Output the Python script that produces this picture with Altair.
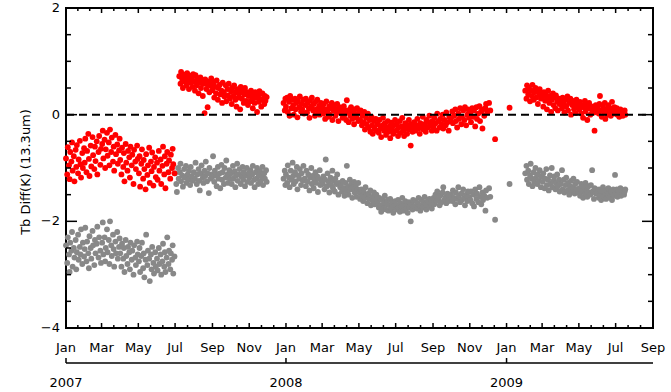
import altair as alt
import pandas as pd

N = None  # no observation on that day

# ---------------------------------------------------------------------------
# Daily brightness-temperature differences (K), 13.3 um channel.
# Each segment: (first day, list of daily values)
# ---------------------------------------------------------------------------
red_2007a = ("2007-01-01", [
    # Jan
    -0.82, N, -1.12, -0.61, N, -0.95, -1.21, -0.70, N, -0.88, -0.52, -1.05, N, -0.78, -1.25, N, -0.66, -0.98, -0.57,
    N, -1.10, -0.84, N, -0.49, -0.93, -1.18, N, -0.72, -1.00, N, -0.63,
    # Feb
    -0.90, -0.45, N, -1.08, -0.68, N, -0.36, -0.83, -1.15, N, -0.58, -0.97, N, -0.42, -0.76, N, -1.02, -0.60, -0.87,
    N, -0.50, -1.12, N, -0.70, -0.40, N, -0.94, -0.64,
    # Mar
    N, -0.55, -0.30, -0.82, N, -0.47, -1.00, -0.65, N, -0.34, -0.77, N, -0.52, -0.95, -0.28, N, -0.70, -0.43, N,
    -0.88, -0.60, -1.05, N, -0.38, -0.74, N, -0.56, -0.92, N, -0.67, -0.45,
    # Apr
    -0.85, N, -1.12, -0.62, N, -0.98, -0.72, -1.25, N, -0.55, -0.90, N, -1.05, -0.68, N, -0.80, -1.18, -0.60, N,
    -0.95, -0.75, N, -1.30, -0.66, N, -0.88, -1.02, N, -0.58, -0.83,
    # May
    N, -1.10, -0.78, -1.35, N, -0.92, -0.65, N, -1.20, -0.85, -1.02, N, -1.40, -0.74, N, -1.13, -0.95, N, -0.62,
    -1.28, N, -0.88, -1.06, -0.71, N, -1.33, -0.98, N, -0.80, -1.17, N,
    # Jun
    -0.90, -1.22, N, -0.68, -1.05, N, -0.84, -1.30, N, -0.96, -0.60, N, -1.12, -0.78, -1.38, N, -0.92, -0.70, N,
    -1.08, -0.86, N, -1.20, -0.75, N, -1.00, -0.64, -0.93, N, -1.10,
])

red_2007b = ("2007-07-08", [
    # Jul 8-31
    0.72, N, 0.58, 0.80, N, 0.66, 0.50, N, 0.75, 0.62, N, 0.70, 0.55, 0.78, N, 0.64, 0.48, N, 0.73, 0.60, N, 0.68,
    0.52, 0.76,
    # Aug
    N, 0.62, 0.45, 0.74, N, 0.55, 0.68, N, 0.40, 0.60, N, 0.70, 0.50, N, 0.64, 0.35, 0.58, N, 0.03, 0.66, N, 0.48,
    0.57, 0.14, N, 0.62, 0.42, N, 0.54, 0.68, N,
    # Sep
    0.46, N, 0.60, 0.32, N, 0.52, 0.40, 0.64, N, 0.28, 0.50, N, 0.56, 0.38, N, 0.45, 0.22, 0.60, N, 0.42, 0.34, N,
    0.55, 0.25, N, 0.48, 0.36, 0.58, N, 0.30,
    # Oct
    N, 0.44, 0.20, 0.50, N, 0.35, 0.55, N, 0.28, 0.42, 0.15, N, 0.48, 0.32, N, 0.40, 0.10, 0.52, N, 0.30, 0.45, N,
    0.22, 0.38, 0.50, N, 0.26, 0.42, N, 0.18, 0.35,
    # Nov
    0.40, N, 0.25, 0.45, N, 0.30, 0.12, 0.38, N, 0.22, 0.42, N, 0.32, 0.05, N, 0.36, 0.24, 0.44, N, 0.28, 0.15, N,
    0.40, 0.30, N, 0.20, 0.35, 0.26, N, 0.33,
])

red_2008 = ("2007-12-28", [
    # Dec 28-31
    0.22, N, 0.08, 0.30,
    # Jan
    0.15, N, 0.32, 0.05, N, 0.24, -0.02, 0.35, N, 0.12, 0.28, N, 0.18, 0.00, N, 0.30, 0.10, 0.22, N, -0.05, 0.26, N,
    0.14, 0.34, N, 0.06, 0.20, 0.10, N, 0.28, 0.02,
    # Feb
    N, 0.18, 0.30, N, 0.04, 0.22, N, 0.12, -0.06, 0.26, N, 0.15, 0.32, N, 0.08, 0.20, N, -0.02, 0.24, 0.10, N, 0.28,
    0.05, N, 0.16, 0.00, N, 0.22, 0.10,
    # Mar
    0.14, N, 0.02, 0.20, N, -0.08, 0.10, 0.25, N, 0.06, -0.04, N, 0.16, 0.00, N, 0.12, 0.22, -0.10, N, 0.08, 0.18, N,
    -0.02, 0.10, N, 0.20, 0.04, -0.12, N, 0.14, 0.06,
    # Apr
    N, 0.02, 0.12, -0.06, N, 0.16, 0.00, N, 0.08, -0.10, 0.27, N, 0.04, -0.14, N, 0.10, -0.02, 0.14, N, -0.08, 0.06,
    N, -0.18, 0.10, 0.00, N, -0.05, 0.12, N, -0.12,
    # May
    0.04, N, -0.10, 0.08, N, -0.20, -0.02, N, -0.14, 0.05, -0.28, N, -0.06, -0.18, N, 0.02, -0.24, N, -0.10, -0.32,
    N, -0.04, -0.20, -0.36, N, -0.12, -0.26, N, -0.08, -0.30, N,
    # Jun
    -0.18, N, -0.34, -0.10, N, -0.26, -0.42, N, -0.20, -0.06, N, -0.30, -0.16, N, -0.38, -0.24, N, -0.12, -0.32, N,
    -0.22, -0.44, N, -0.15, -0.28, N, -0.36, -0.20, N, -0.10,
    # Jul
    N, -0.30, -0.18, N, -0.40, -0.24, N, -0.12, -0.34, N, -0.22, -0.06, N, -0.30, -0.40, N, -0.16, -0.26, N, -0.36,
    -0.20, N, -0.10, -0.28, N, -0.58, -0.18, N, -0.32, -0.24, N,
    # Aug
    -0.14, N, -0.30, N, -0.20, -0.08, N, -0.26, N, -0.36, -0.16, N, -0.22, N, -0.04, -0.28, N, -0.18, N, -0.32,
    -0.10, N, -0.24, N, -0.14, -0.02, N, -0.20, N, -0.30, -0.12,
    # Sep
    N, -0.22, -0.06, N, -0.16, N, -0.30, 0.02, N, -0.12, N, -0.24, -0.08, N, -0.18, N, 0.00, -0.26, N, -0.10, N,
    -0.20, 0.04, N, -0.14, N, -0.30, -0.04, N, -0.12,
    # Oct
    -0.06, N, 0.06, -0.16, N, -0.02, N, 0.10, -0.12, N, -0.24, N, 0.02, -0.08, N, 0.12, N, -0.18, -0.04, N, 0.08, N,
    -0.10, 0.14, N, -0.20, N, 0.00, 0.10, N, -0.06,
    # Nov
    N, 0.04, -0.14, N, 0.12, N, -0.04, 0.08, N, -0.22, N, 0.14, -0.08, N, 0.02, N, 0.16, -0.12, N, 0.06, N, -0.26,
    0.10, N, -0.02, N, 0.12, 0.20, N, 0.04,
    # Dec
    N, N, 0.22, N, 0.08, N, N, N, N, N, N, N, -0.46,
])

red_2009a = ("2009-01-06", [0.13])

red_2009b = ("2009-02-01", [
    # Feb
    0.45, N, 0.30, 0.55, N, 0.38, 0.50, N, 0.25, 0.46, N, 0.35, 0.56, N, 0.28, 0.42, N, 0.50, 0.32, N, 0.44, 0.20,
    N, 0.38, 0.48, N, 0.30, 0.40,
    # Mar
    N, 0.34, 0.15, 0.42, N, 0.26, 0.38, N, 0.10, 0.30, 0.45, N, 0.22, 0.35, N, 0.05, 0.28, N, 0.40, 0.18, 0.32, N,
    0.12, 0.36, N, 0.24, 0.08, N, 0.30, 0.20, N,
    # Apr
    0.26, N, 0.12, 0.32, N, 0.20, 0.04, N, 0.28, 0.16, N, 0.34, 0.08, N, 0.22, N, 0.30, 0.00, N, 0.18, 0.26, N, 0.10,
    0.20, N, 0.03, 0.28, N, 0.14, 0.22,
    # May
    N, 0.10, 0.24, N, 0.02, 0.18, N, -0.06, 0.14, N, 0.26, 0.06, N, 0.20, -0.10, N, 0.12, 0.22, N, 0.00, 0.16, N,
    0.08, 0.12, N, 0.04, -0.30, N, 0.18, 0.10, N,
    # Jun
    0.14, N, 0.02, 0.20, 0.35, N, 0.08, -0.04, N, 0.16, 0.06, N, 0.22, -0.08, N, 0.10, 0.00, N, 0.18, 0.05, N, 0.12,
    -0.02, N, 0.24, 0.08, N, 0.02, 0.14, N,
    # Jul 1-17
    0.06, N, 0.12, 0.00, N, 0.08, -0.04, N, 0.10, 0.02, N, 0.06, -0.02, N, 0.04, 0.08, 0.00,
])

gray_2007a = ("2007-01-01", [
    # Jan
    -2.45, N, -2.78, -2.30, N, -2.62, -2.95, -2.40, N, -2.55, -2.20, -2.85, N, -2.50, -2.68, N, -2.35, -2.90, -2.58,
    N, -2.25, -2.72, N, -2.48, -2.62, -2.15, N, -2.80, -2.40, N, -2.66,
    # Feb
    -2.52, -2.12, N, -2.75, -2.38, N, -2.60, -2.88, -2.28, N, -2.50, -2.70, N, -2.18, -2.45, N, -2.82, -2.35, -2.60,
    N, -2.42, -2.10, N, -2.68, -2.30, N, -2.55, -2.78,
    # Mar
    N, -2.40, -2.02, -2.62, N, -2.30, -2.75, -2.50, N, -2.15, -2.58, N, -2.35, -2.80, -2.00, N, -2.45, -2.65, N,
    -2.25, -2.52, -2.85, N, -2.38, -2.60, N, -2.20, -2.70, N, -2.48, -2.32,
    # Apr
    -2.60, N, -2.85, -2.42, N, -2.70, -2.50, -2.95, N, -2.35, -2.65, N, -2.80, -2.48, N, -2.58, -2.90, -2.40, N,
    -2.72, -2.55, N, -3.00, -2.45, N, -2.68, -2.82, N, -2.38, -2.62,
    # May
    N, -2.75, -2.50, -2.95, N, -2.65, -2.40, N, -2.88, -2.60, -3.05, N, -2.72, -2.25, N, -2.82, -2.55, N, -2.70,
    -3.12, N, -2.62, -2.90, -2.48, N, -2.78, -2.98, N, -2.58, -2.85, N,
    # Jun
    -2.70, -2.92, N, -2.50, -2.80, N, -2.62, -3.00, N, -2.75, -2.42, N, -2.85, -2.58, -2.95, N, -2.68, -2.30, N,
    -2.80, -2.55, N, -2.90, -2.60, N, -2.72, -2.45, -2.98, N, -2.66,
])

gray_2007b = ("2007-07-01", [
    # Jul
    -1.10, N, -1.30, -1.45, N, -1.00, -1.20, N, -1.08, -0.92, -1.25, N, -1.14, -1.35, N, -1.02, -1.18, N, -0.96,
    -1.28, N, -1.12, -1.22, -1.05, N, -1.32, -0.98, N, -1.16, -1.24, N,
    # Aug
    -1.08, N, -1.20, -0.90, N, -1.30, -1.12, N, -1.02, -1.24, -1.42, N, -1.10, -0.95, N, -1.18, -1.28, N, -1.05,
    -1.15, -0.88, N, -1.25, -1.10, N, -1.47, -1.00, N, -1.20, -1.12, N,
    # Sep
    -1.16, -0.78, N, -1.26, -1.05, N, -1.14, -1.34, N, -0.98, -1.20, N, -1.10, -1.38, N, -0.94, -1.22, -1.08, N,
    -1.30, -1.00, N, -1.18, -0.86, N, -1.12, -1.28, N, -1.04, -1.20,
    # Oct
    N, -1.10, -1.30, N, -0.96, -1.20, N, -1.06, -1.36, -1.14, N, -0.92, -1.24, N, -1.12, -1.02, N, -1.30, -1.16, N,
    -0.98, -1.22, -1.08, N, -1.34, -1.14, N, -1.00, -1.26, N, -1.10,
    # Nov
    -1.18, N, -1.04, -1.28, N, -1.12, -0.96, N, -1.22, -1.36, N, -1.08, -1.20, -1.00, N, -1.30, -1.14, N, -1.06,
    -1.24, N, -1.16, -0.98, -1.32, N, -1.10, -1.20, N, -1.04, -1.26,
])

gray_2008 = ("2007-12-28", [
    # Dec 28-31
    -1.20, N, -1.05, -1.32,
    # Jan
    -1.12, N, -1.28, -0.95, N, -1.18, -1.36, N, -1.05, -1.22, N, -0.90, -1.15, -1.30, N, -1.08, -1.25, N, -0.98,
    -1.40, N, -1.14, -1.20, -1.02, N, -1.32, -1.10, N, -1.24, -0.96, N,
    # Feb
    -1.20, N, -1.34, -1.05, N, -1.26, -1.12, N, -1.42, -1.18, N, -1.00, -1.30, -1.15, N, -1.38, -1.22, N, -1.08,
    -1.28, N, -1.16, -1.45, -1.20, N, -1.04, -1.32, N, -1.24,
    # Mar
    N, -1.30, -1.16, N, -1.40, -1.22, -0.84, N, -1.34, -1.10, N, -1.26, -1.46, N, -1.18, -1.32, N, -1.05, -1.38,
    -1.24, N, -1.44, -1.20, N, -1.30, -1.12, N, -1.50, -1.28, N, -1.36,
    # Apr
    -1.32, N, -1.44, -1.24, N, -1.38, -1.52, N, -1.28, -1.42, -0.96, N, -1.34, -1.50, N, -1.22, -1.40, N, -1.30,
    -1.56, N, -1.36, -1.26, -1.46, N, -1.32, -1.54, N, -1.40, -1.28,
    # May
    N, -1.46, -1.58, N, -1.40, -1.52, N, -1.62, -1.44, N, -1.56, -1.36, N, -1.50, -1.66, N, -1.48, -1.58, N, -1.42,
    -1.70, N, -1.54, -1.62, N, -1.46, -1.68, N, -1.58, -1.50, N,
    # Jun
    -1.64, N, -1.74, -1.56, N, -1.70, -1.82, N, -1.60, -1.76, N, -1.66, -1.52, N, -1.78, -1.68, N, -1.60, -1.80, N,
    -1.70, -1.58, N, -1.76, -1.64, N, -1.84, -1.72, N, -1.62,
    # Jul
    N, -1.70, -1.78, N, -1.60, -1.74, N, -1.82, -1.66, N, -1.72, -1.56, N, -1.80, -1.68, N, -1.62, -1.76, N, -1.70,
    -1.84, N, -1.64, -1.74, N, -2.00, -1.68, N, -1.78, -1.60, N,
    # Aug
    -1.72, N, -1.62, N, -1.76, -1.66, N, -1.56, N, -1.70, -1.80, N, -1.60, N, -1.74, -1.64, N, -1.54, N, -1.68,
    -1.78, N, -1.62, N, -1.72, -1.58, N, -1.66, N, -1.76, -1.60,
    # Sep
    N, -1.56, -1.68, N, -1.50, N, -1.62, -1.44, N, -1.58, N, -1.70, -1.52, N, -1.64, N, -1.46, -1.36, N, -1.60, N,
    -1.54, -1.66, N, -1.48, N, -1.62, -1.52, N, -1.58,
    # Oct
    -1.50, N, -1.62, -1.42, N, -1.56, N, -1.68, -1.46, N, -1.58, N, -1.36, -1.52, N, -1.64, N, -1.48, -1.60, N,
    -1.40, N, -1.56, -1.70, N, -1.50, N, -1.62, -1.44, N, -1.54,
    # Nov
    N, -1.60, -1.44, N, -1.66, N, -1.50, -1.72, N, -1.40, N, -1.58, -1.48, N, -1.64, N, -1.36, -1.54, N, -1.68, N,
    -1.46, -1.60, N, -1.52, N, -1.80, -1.42, N, -1.56,
    # Dec
    N, N, -1.38, N, -1.54, N, N, N, N, N, N, N, -1.97,
])

gray_2009a = ("2009-01-06", [-1.30])

gray_2009b = ("2009-02-01", [
    # Feb
    -1.10, N, -0.96, -1.22, N, -1.05, -1.30, N, -1.14, -0.92, N, -1.20, -1.34, N, -1.08, -1.26, N, -1.00, -1.18, N,
    -1.30, -1.12, N, -1.24, -1.04, N, -1.36, -1.16,
    # Mar
    N, -1.26, -1.10, N, -1.38, -1.20, N, -1.02, -1.32, N, -1.22, -1.42, N, -1.14, -1.30, N, -1.00, -1.36, N, -1.24,
    -1.16, N, -1.40, -1.28, N, -1.12, -1.34, N, -1.22, -1.44, N,
    # Apr
    -1.30, N, -1.04, -1.40, N, -1.22, -1.46, N, -1.32, -1.18, N, -1.42, -1.28, N, -1.50, -1.34, N, -1.24, -1.44, N,
    -1.36, -1.20, N, -1.48, -1.30, N, -1.40, -1.26, N, -1.46,
    # May
    N, -1.38, -1.52, N, -1.30, -1.44, N, -1.56, -1.36, N, -1.48, -1.28, N, -1.42, -1.54, N, -1.34, -1.46, N, -1.50,
    -1.32, N, -1.04, -1.44, N, -1.58, -1.38, N, -1.48, -1.40, N,
    # Jun
    -1.46, N, -1.56, -1.40, N, -1.50, -1.60, N, -1.44, -1.36, N, -1.54, -1.46, N, -1.58, -1.42, N, -1.50, -1.38, N,
    -1.56, -1.48, N, -1.44, -1.60, N, -1.40, -1.52, N, -1.13,
    # Jul 1-17
    -1.48, N, -1.40, -1.54, N, -1.44, -1.50, N, -1.38, -1.52, N, -1.46, -1.42, N, -1.50, -1.44, -1.40,
])

series_segments = {
    "gray": [gray_2007a, gray_2007b, gray_2008, gray_2009a, gray_2009b],
    "red": [red_2007a, red_2007b, red_2008, red_2009a, red_2009b],
}

# Axis annotation
x_start, x_end = "2007-01-01", "2009-09-01"
month_ticks = ["2007-01-01", "2007-03-01", "2007-05-01", "2007-07-01", "2007-09-01", "2007-11-01",
               "2008-01-01", "2008-03-01", "2008-05-01", "2008-07-01", "2008-09-01", "2008-11-01",
               "2009-01-01", "2009-03-01", "2009-05-01", "2009-07-01", "2009-09-01"]
month_labels = ["Jan", "Mar", "May", "Jul", "Sep", "Nov",
                "Jan", "Mar", "May", "Jul", "Sep", "Nov",
                "Jan", "Mar", "May", "Jul", "Sep"]
year_ticks = ["2007-01-01", "2008-01-01", "2009-01-01"]
year_labels = ["2007", "2008", "2009"]
y_major = [2, 0, -2, -4]
y_major_labels = ["2", "0", "\u22122", "\u22124"]
y_minor = [1.5, 1.0, 0.5, -0.5, -1.0, -1.5, -2.5, -3.0, -3.5]
y_title = "Tb Diff(K)  (13.3um)"

W, H = 587, 320
FONT = "DejaVu Sans"
FS = 13
INK = "#000000"


def ms(ts):
    return int(pd.Timestamp(ts, tz="UTC").timestamp() * 1000)


rows = []
for name, segments in series_segments.items():
    for start, values in segments:
        t0 = pd.Timestamp(start, tz="UTC")
        for i, v in enumerate(values):
            if v is None:
                continue
            t = t0 + pd.Timedelta(days=i)
            rows.append({"t": int(t.timestamp() * 1000), "v": v, "series": name})
points = pd.DataFrame(rows)

# Minor x ticks split each two-month interval into thirds
major_ms = [ms(d) for d in month_ticks]
minor_ms = []
for a, b in zip(major_ms[:-1], major_ms[1:]):
    minor_ms += [a + (b - a) / 3, a + 2 * (b - a) / 3]
xmaj_df = pd.DataFrame({"t": major_ms})
xmin_df = pd.DataFrame({"t": minor_ms})
ymaj_df = pd.DataFrame({"v": y_major})
ymin_df = pd.DataFrame({"v": y_minor})
month_df = pd.DataFrame({"t": major_ms, "label": month_labels})
year_df = pd.DataFrame({"t": [ms(d) for d in year_ticks], "label": year_labels})
ylab_df = pd.DataFrame({"v": y_major, "label": y_major_labels})

xscale = alt.Scale(type="utc", domain=[ms(x_start), ms(x_end)])
yscale = alt.Scale(domain=[-4, 2], nice=False, zero=False)
X = alt.X("t:T", scale=xscale, axis=None)
Y = alt.Y("v:Q", scale=yscale, axis=None)

dots = alt.Chart(points).mark_circle(size=34, opacity=1).encode(
    x=X, y=Y,
    color=alt.Color("series:N", scale=alt.Scale(domain=["gray", "red"], range=["#888888", "#ff0000"]),
                    legend=None),
    order=alt.Order("series:N", sort="ascending"),
)

zero_line = alt.Chart(pd.DataFrame({"v": [0]})).mark_rule(
    color=INK, strokeWidth=2, strokeDash=[8, 5]
).encode(y=Y, x=alt.value(0), x2=alt.value(W))


def xtick(df, y0, y1):
    return alt.Chart(df).mark_rule(color=INK, strokeWidth=1.5).encode(
        x=X, y=alt.value(y0), y2=alt.value(y1))


def ytick(df, x0, x1):
    return alt.Chart(df).mark_rule(color=INK, strokeWidth=1.5).encode(
        y=Y, x=alt.value(x0), x2=alt.value(x1))


ticks = [
    xtick(xmaj_df, H, H - 5), xtick(xmin_df, H, H - 3),
    xtick(xmaj_df, 0, 5), xtick(xmin_df, 0, 3),
    ytick(ymaj_df, 0, 11), ytick(ymin_df, 0, 5),
    ytick(ymaj_df, W, W - 11), ytick(ymin_df, W, W - 5),
]

month_text = alt.Chart(month_df).mark_text(
    font=FONT, fontSize=FS, color=INK, baseline="alphabetic", align="center"
).encode(x=X, y=alt.value(344), text="label:N")

# second-level (year) axis below the month labels
YEAR_AXIS_Y = 355
year_line = alt.Chart(pd.DataFrame({"v": [0]})).mark_rule(color=INK, strokeWidth=1.5).encode(
    x=alt.value(0), x2=alt.value(W), y=alt.value(YEAR_AXIS_Y))
year_ticks_m = alt.Chart(year_df).mark_rule(color=INK, strokeWidth=1.5).encode(
    x=X, y=alt.value(YEAR_AXIS_Y), y2=alt.value(YEAR_AXIS_Y - 5))
year_text = alt.Chart(year_df).mark_text(
    font=FONT, fontSize=FS, color=INK, baseline="alphabetic", align="center"
).encode(x=X, y=alt.value(379), text="label:N")

ylab_text = alt.Chart(ylab_df).mark_text(
    font=FONT, fontSize=FS, color=INK, baseline="middle", align="right"
).encode(y=Y, x=alt.value(-6), text="label:N")

ytitle = alt.Chart(pd.DataFrame({"label": [y_title]})).mark_text(
    font=FONT, fontSize=FS, color=INK, baseline="middle", align="center", angle=270
).encode(x=alt.value(-40), y=alt.value(164), text="label:N")

chart = alt.layer(
    dots, zero_line, *ticks, month_text, year_line, year_ticks_m, year_text, ylab_text, ytitle
).properties(
    width=W, height=H,
    autosize=alt.AutoSizeParams(type="none"),
    padding={"left": 66, "top": 8, "right": 18, "bottom": 64},
    background="white",
).configure_view(stroke=INK, strokeWidth=2)

chart.save("out.html", embed_options={"renderer": "svg", "actions": False})
